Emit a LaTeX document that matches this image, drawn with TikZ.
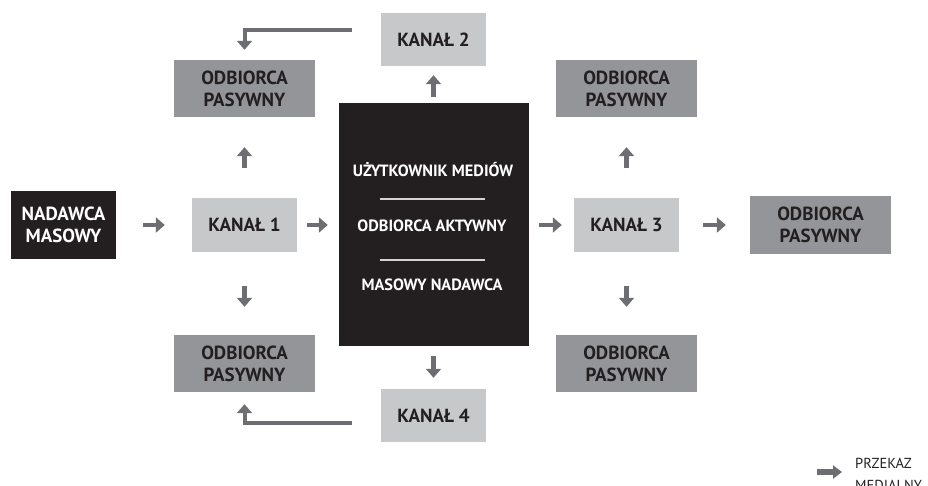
\documentclass[tikz,border=0pt]{standalone}
\usepackage{fontspec}
\setmainfont{PT Sans}
\usetikzlibrary{arrows.meta,calc}
\definecolor{blk}{HTML}{231F20}
\definecolor{dgray}{HTML}{939598}
\definecolor{lgray}{HTML}{C7C8CA}
\definecolor{agray}{HTML}{6D6E71}
\definecolor{sepc}{HTML}{D1D3D4}
\begin{document}
\begin{tikzpicture}[x=1pt,y=-1pt,
  box/.style={draw=none, inner sep=0pt, align=center, text=blk,
    font=\fontsize{19}{22}\selectfont\bfseries},
  kanal/.style={box, fill=lgray, minimum width=105pt, minimum height=53pt},
  odb/.style={box, fill=dgray, minimum width=141pt, minimum height=57pt},
  dark/.style={box, fill=blk, text=white},
  ctext/.style={inner sep=0pt, text=white, font=\fontsize{16.3}{18}\selectfont\bfseries},
  arr/.style={draw=agray, line width=4.5pt, -{Triangle[width=15pt,length=9pt]}},
  legarr/.style={draw=agray, line width=5.5pt, -{Triangle[width=13pt,length=9pt]}},
  sepline/.style={draw=sepc, line width=2pt}
]
\useasboundingbox (0,0) rectangle (928,486);
% nodes
\node[kanal] (k2) at (433.5,39.5) {KANAŁ 2};
\node[odb] (o1) at (244.5,88.5) {ODBIORCA\\PASYWNY};
\node[odb] (o2) at (626.5,88.5) {ODBIORCA\\PASYWNY};
\node[dark, minimum width=105pt, minimum height=67pt] (n) at (63.5,225) {NADAWCA\\MASOWY};
\node[kanal] (k1) at (244.5,225) {KANAŁ 1};
\node[dark, minimum width=190pt, minimum height=243pt] (c) at (434,224.5) {};
\node[kanal] (k3) at (626.5,225) {KANAŁ 3};
\node[odb] (o5) at (820.5,225) {ODBIORCA\\PASYWNY};
\node[odb] (o3) at (244.5,363.5) {ODBIORCA\\PASYWNY};
\node[odb] (o4) at (626.5,363.5) {ODBIORCA\\PASYWNY};
\node[kanal] (k4) at (433.5,415.5) {KANAŁ 4};
% center texts
\node[ctext] (t1) at (433,170) {UŻYTKOWNIK MEDIÓW};
\node[ctext] (t2) at (432,226) {ODBIORCA AKTYWNY};
\node[ctext] (t3) at (432,285) {MASOWY NADAWCA};
\draw[sepline] ($(c.center)+(-54,-25.5)$) -- ($(c.center)+(51,-25.5)$);
\draw[sepline] ($(c.center)+(-54,35)$) -- ($(c.center)+(51,35)$);
% horizontal arrows
\draw[arr, shorten <=27pt, shorten >=27pt] (n.east) -- (k1.west);
\draw[arr, shorten <=10pt, shorten >=11pt] (k1.east) -- (c.west |- k1.east);
\draw[arr, shorten <=10pt, shorten >=12pt] (c.east |- k3.west) -- (k3.west);
\draw[arr, shorten <=24pt, shorten >=24pt] (k3.east) -- (o5.west);
% vertical arrows
\draw[arr, shorten <=30pt, shorten >=30pt] (k1.north) -- (o1.south);
\draw[arr, shorten <=34pt, shorten >=28pt] (k1.south) -- (o3.north);
\draw[arr, shorten <=30pt, shorten >=30pt] (k3.north) -- (o2.south);
\draw[arr, shorten <=34pt, shorten >=28pt] (k3.south) -- (o4.north);
\draw[arr, shorten <=6pt, shorten >=9pt] (c.north -| k2.south) -- (k2.south);
\draw[arr, shorten <=10pt, shorten >=11pt] (c.south -| k4.north) -- (k4.north);
% bent arrows
\coordinate (b1) at (352,30);
\coordinate (b2) at (352,423);
\draw[arr, line width=4pt, shorten >=10pt] (b1) -| (o1.north);
\draw[arr, line width=4pt, shorten >=12pt] (b2) -| (o3.south);
% legend
\coordinate (la) at (817,472);
\coordinate (lb) at (842,472);
\draw[legarr] (la) -- (lb);
\node[anchor=north west, align=left, inner sep=0pt, text=blk,
  font=\fontsize{14.5}{22}\selectfont] (leg) at (855,458) {PRZEKAZ\\MEDIALNY};
\end{tikzpicture}
\end{document}
